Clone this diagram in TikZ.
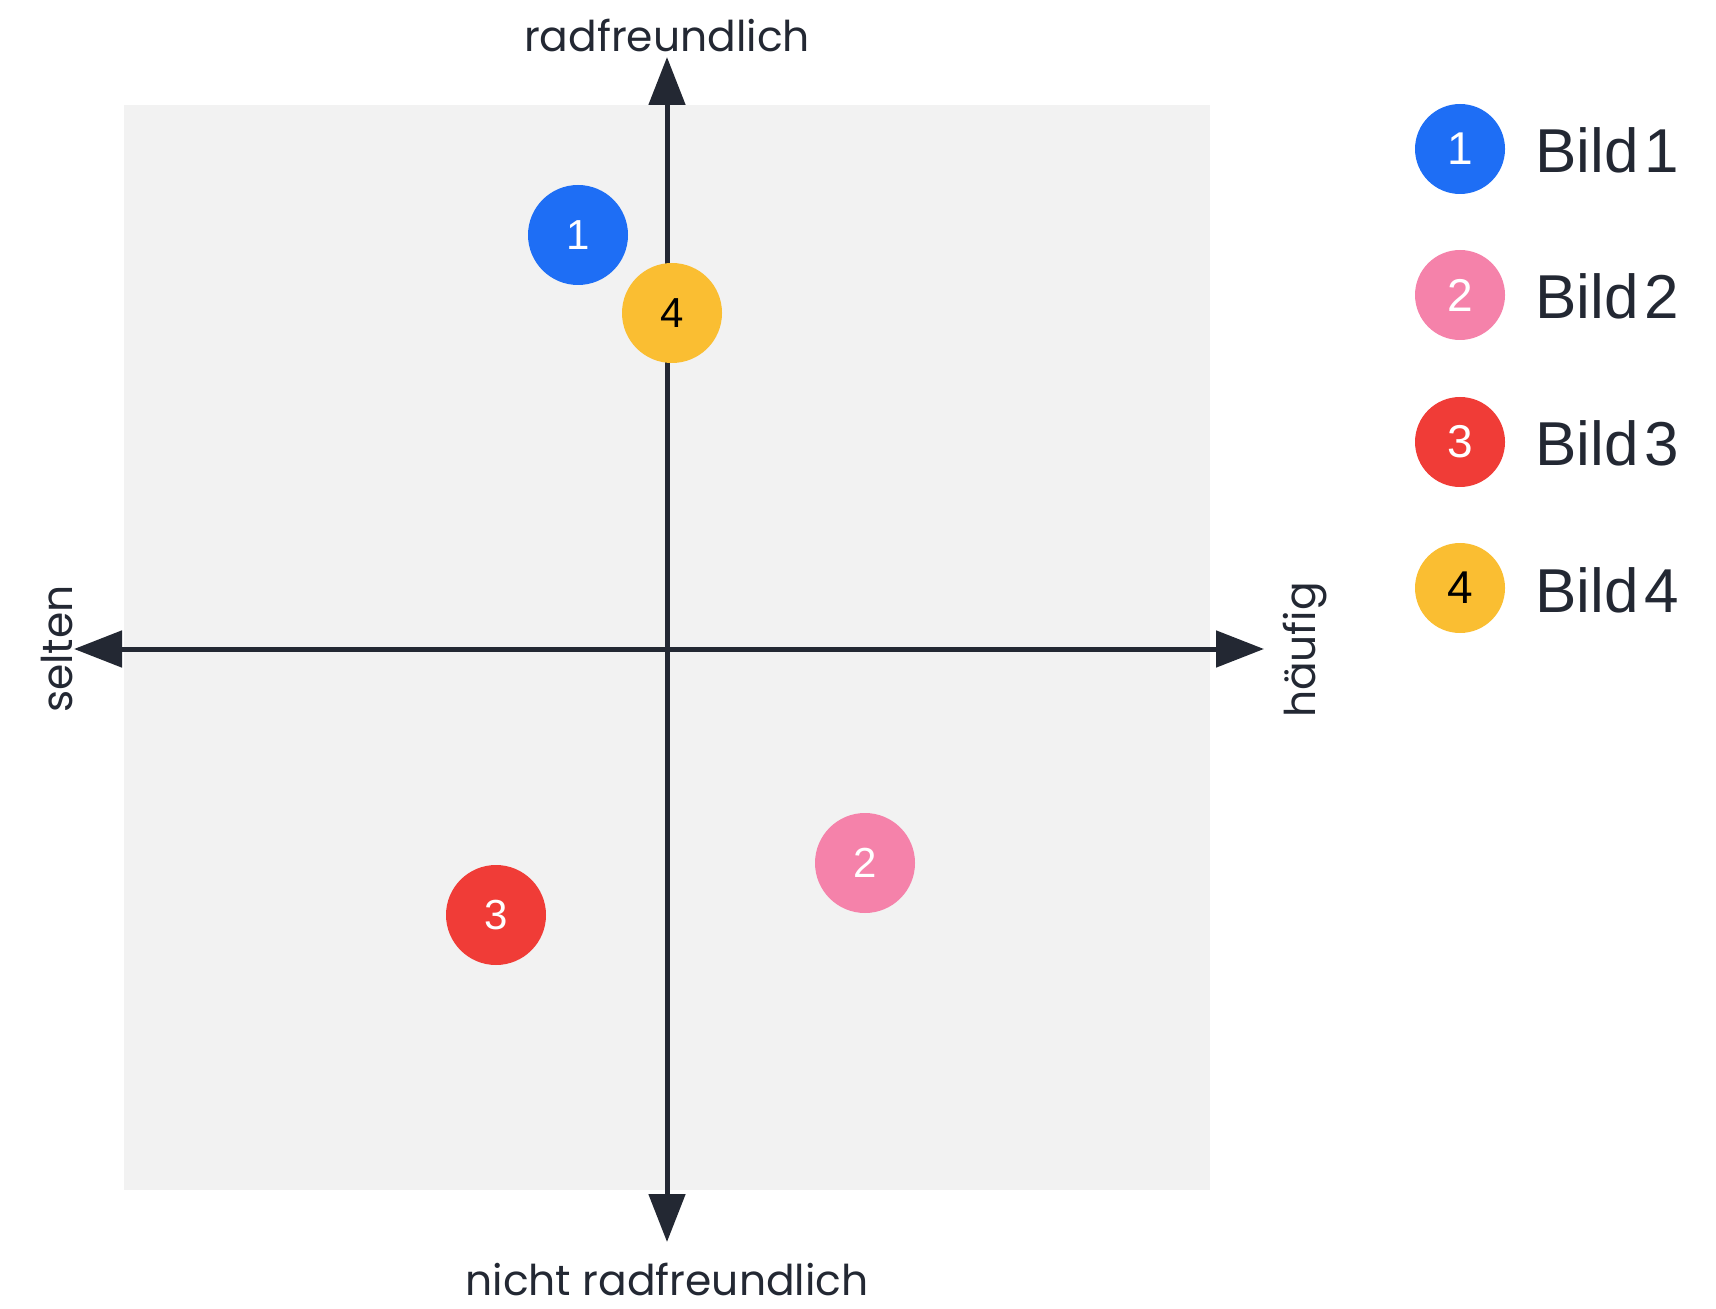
\documentclass[tikz,border=0pt]{standalone}
\usepackage{fontspec}
\setmainfont{Liberation Sans}
\newfontfamily\axisfont{Poppins}
\newfontfamily\legendfont[WordSpace=0.35]{Liberation Sans}
\usetikzlibrary{arrows.meta}

\definecolor{bggray}{HTML}{F2F2F2}
\definecolor{axisdark}{HTML}{232833}
\definecolor{bildblue}{HTML}{1E6EF5}
\definecolor{bildpink}{HTML}{F582AA}
\definecolor{bildred}{HTML}{F03C37}
\definecolor{bildyellow}{HTML}{FABE32}

\tikzset{
  axisline/.style={line width=2.5pt, axisdark,
    {Triangle[length=24pt,width=18pt]}-{Triangle[length=24pt,width=18pt]}},
  axislabel/.style={font=\axisfont\fontsize{21.2}{24}\selectfont, text=axisdark, inner sep=0pt},
  dot/.style={circle, inner sep=0pt, minimum size=50pt, text=white,
    font=\fontsize{21}{24}\selectfont},
  legdot/.style={circle, inner sep=0pt, minimum size=45pt, text=white,
    font=\fontsize{23}{26}\selectfont},
  legtext/.style={anchor=base west, inner sep=0pt, text=axisdark,
    font=\legendfont\fontsize{31}{36}\selectfont}
}

\begin{document}
\begin{tikzpicture}[x=0.5pt,y=-0.5pt]
  \useasboundingbox (0,0) rectangle (1716,1309);

  % grey field behind the axes
  \fill[bggray] (124,105) rectangle (1210,1190);

  % tips of the two axes
  \coordinate (north) at (667,57);
  \coordinate (south) at (667,1242);
  \coordinate (west) at (74,649);
  \coordinate (east) at (1264,649);

  \draw[axisline] (west) -- (east);
  \draw[axisline] (south) -- (north);

  % axis labels
  \node[axislabel, anchor=base] (labnorth) at (667,52) {radfreundlich};
  \node[axislabel, anchor=base] (labsouth) at (667,1295) {nicht radfreundlich};
  \node[axislabel, anchor=base, rotate=90] (labwest) at (72,649) {selten};
  \node[axislabel, anchor=base, rotate=90] (labeast) at (1315,650) {häufig};

  % the four pictures in the field
  \node[dot, fill=bildblue] (p1) at (578,235) {1};
  \node[dot, fill=bildyellow, text=black] (p4) at (672,313) {4};
  \node[dot, fill=bildpink] (p2) at (865,863) {2};
  \node[dot, fill=bildred] (p3) at (496,915) {3};

  % legend
  \node[legdot, fill=bildblue] (l1) at (1460,149) {1};
  \node[legtext] (t1) at (1535,173) {Bild 1};
  \node[legdot, fill=bildpink] (l2) at (1460,295) {2};
  \node[legtext] (t2) at (1535,319) {Bild 2};
  \node[legdot, fill=bildred] (l3) at (1460,442) {3};
  \node[legtext] (t3) at (1535,466) {Bild 3};
  \node[legdot, fill=bildyellow, text=black] (l4) at (1460,588) {4};
  \node[legtext] (t4) at (1535,612) {Bild 4};
\end{tikzpicture}
\end{document}
